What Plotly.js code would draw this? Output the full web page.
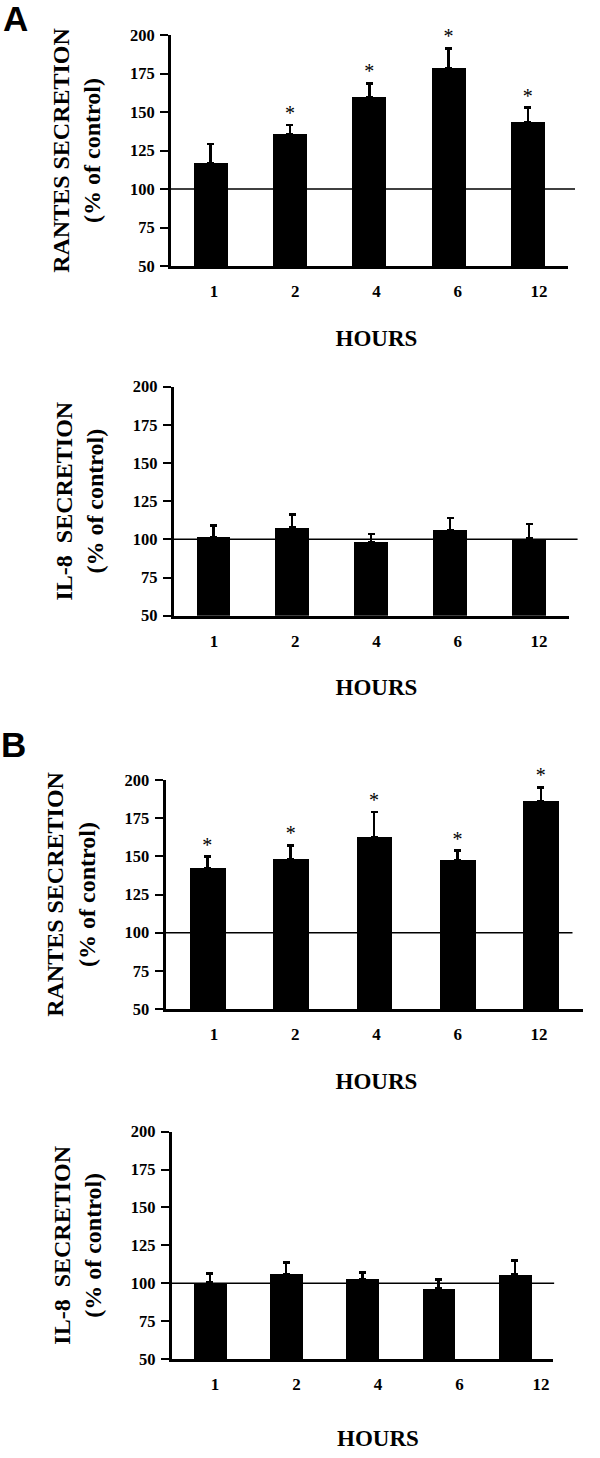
<!DOCTYPE html>
<html>
<head>
<meta charset="utf-8">
<script src="https://cdn.plot.ly/plotly-3.0.1.min.js"></script>
<style>
html,body{margin:0;padding:0;background:#ffffff;}
#chart{width:600px;height:1458px;}
</style>
</head>
<body>
<div id="chart"></div>
<script>
// ---------- data ----------
const hours = ['1', '2', '4', '6', '12'];
const yTicks = [50, 75, 100, 125, 150, 175, 200];
const controlLevel = 100;

// Panel A
const rantesA    = [116.8, 135.4, 159.9, 178.3, 143.6];
const rantesAErr = [12.3, 6.1, 8.7, 13.0, 9.2];
const rantesASig = ['', '*', '*', '*', '*'];

const il8A    = [101.7, 107.9, 98.3, 106.3, 100.7];
const il8AErr = [7.3, 8.5, 5.2, 7.7, 9.3];
const il8ASig = ['', '', '', '', ''];

// Panel B
const rantesB    = [142.1, 148.3, 162.4, 147.4, 186.0];
const rantesBErr = [7.7, 8.9, 16.6, 6.3, 9.2];
const rantesBSig = ['*', '*', '*', '*', '*'];

const il8B    = [100.6, 106.1, 102.8, 96.4, 105.6];
const il8BErr = [5.7, 7.5, 4.4, 6.2, 9.3];
const il8BSig = ['', '', '', '', ''];

// ---------- layout helpers ----------
const W = 600, H = 1458;
const SERIF = 'Liberation Serif, Times New Roman, serif';
const SANS = 'Liberation Sans, Arial, sans-serif';
const px = v => v / W;
const py = v => 1 - v / H;

const panels = [
  {vals: rantesA, errs: rantesAErr, sig: rantesASig, ytitle: 'RANTES SECRETION<br>(% of control)',
   bx: [171, 567.5], by: [35, 266], lx: [173.4, 579.6], lineEnd: 1.019, hoursStandoff: 29},
  {vals: il8A, errs: il8AErr, sig: il8ASig, ytitle: 'IL-8\u00a0 SECRETION<br>(% of control)',
   bx: [173.8, 568.5], by: [386.7, 615.7], lx: [173.4, 579.6], lineEnd: 1.023, hoursStandoff: 29},
  {vals: rantesB, errs: rantesBErr, sig: rantesBSig, ytitle: 'RANTES SECRETION<br>(% of control)',
   bx: [165.6, 582.5], by: [780, 1009], lx: [173.4, 579.6], lineEnd: 0.976, hoursStandoff: 29},
  {vals: il8B, errs: il8BErr, sig: il8BSig, ytitle: 'IL-8\u00a0 SECRETION<br>(% of control)',
   bx: [171.7, 553], by: [1131.7, 1359], lx: [174.25, 581.75], lineEnd: 1.003, hoursStandoff: 36}
];

const traces = [];
const layout = {
  width: W, height: H,
  margin: {l: 0, r: 0, t: 0, b: 0, pad: 0},
  paper_bgcolor: '#ffffff', plot_bgcolor: 'rgba(0,0,0,0)',
  showlegend: false, bargap: 0,
  shapes: [], annotations: []
};

panels.forEach((p, i) => {
  const bxName = i === 0 ? 'x' : 'x' + (2 * i + 1);
  const lxName = 'x' + (2 * i + 2);
  const yName = i === 0 ? 'y' : 'y' + (i + 1);
  const bxKey = i === 0 ? 'xaxis' : 'xaxis' + (2 * i + 1);
  const lxKey = 'xaxis' + (2 * i + 2);
  const yKey = i === 0 ? 'yaxis' : 'yaxis' + (i + 1);

  traces.push({
    type: 'bar', x: hours, y: p.vals, xaxis: bxName, yaxis: yName,
    width: 0.43, marker: {color: '#000000', line: {width: 0}},
    error_y: {type: 'data', symmetric: false, array: p.errs, arrayminus: [],
              color: '#000000', thickness: 2.5, width: 3.5},
    hoverinfo: 'x+y'
  });
  traces.push({
    type: 'scatter', mode: 'text', x: hours,
    y: p.vals.map((v, k) => v + p.errs[k]),
    text: p.sig, textposition: 'top center',
    textfont: {family: SERIF, size: 20, color: '#000000'},
    xaxis: bxName, yaxis: yName, hoverinfo: 'skip', cliponaxis: false
  });
  // invisible trace so the label axis is drawn
  traces.push({
    type: 'scatter', mode: 'none', x: hours.map((h, k) => k), y: p.vals,
    xaxis: lxName, yaxis: yName, hoverinfo: 'skip'
  });

  layout[bxKey] = {
    type: 'category', domain: [px(p.bx[0]), px(p.bx[1])], range: [-0.5, 4.5],
    anchor: yName, showline: true, linewidth: 3, linecolor: '#000000',
    ticks: '', showticklabels: false, showgrid: false, zeroline: false, fixedrange: true
  };
  layout[lxKey] = {
    type: 'linear', domain: [px(p.lx[0]), px(p.lx[1])], range: [-0.5, 4.5],
    anchor: yName, showline: false, ticks: '', showgrid: false, zeroline: false,
    tickvals: hours.map((h, k) => k), ticktext: hours, ticklabelstandoff: 13,
    tickfont: {family: SERIF, size: 17, color: '#000000', weight: 'bold'},
    title: {text: 'HOURS', standoff: p.hoursStandoff,
            font: {family: SERIF, size: 23, color: '#000000', weight: 'bold'}},
    fixedrange: true
  };
  layout[yKey] = {
    domain: [py(p.by[1]), py(p.by[0])], range: [50, 200], anchor: bxName,
    tickvals: yTicks, ticks: 'outside', ticklen: 8, tickwidth: 2, tickcolor: '#000000',
    showline: true, linewidth: 3, linecolor: '#000000', showgrid: false, zeroline: false,
    ticklabelstandoff: 2,
    tickfont: {family: SERIF, size: 16.5, color: '#000000', weight: 'bold'},
    title: {text: p.ytitle, standoff: 23,
            font: {family: SERIF, size: 24, color: '#000000', weight: 'bold'}},
    fixedrange: true
  };
  layout.shapes.push({
    type: 'line', xref: bxName + ' domain', yref: yName,
    x0: 0, x1: p.lineEnd, y0: controlLevel, y1: controlLevel,
    line: {color: '#000000', width: 1.5}, layer: 'below'
  });
});

layout.annotations.push(
  {text: 'A', xref: 'paper', yref: 'paper', x: px(15.5), y: py(18.5), showarrow: false,
   xanchor: 'center', yanchor: 'middle', font: {family: SANS, size: 35, color: '#000000', weight: 'bold'}},
  {text: 'B', xref: 'paper', yref: 'paper', x: px(13.5), y: py(744.5), showarrow: false,
   xanchor: 'center', yanchor: 'middle', font: {family: SANS, size: 35, color: '#000000', weight: 'bold'}}
);

Plotly.newPlot('chart', traces, layout, {displayModeBar: false, staticPlot: false, responsive: false});
</script>
</body>
</html>
